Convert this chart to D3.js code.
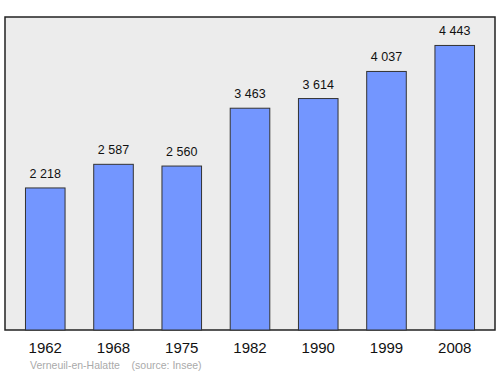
<!DOCTYPE html>
<html>
<head>
<meta charset="utf-8">
<script src="https://cdn.jsdelivr.net/npm/d3@7"></script>
<style>
  body { margin: 0; background: #fff; }
  svg { display: block; font-family: "Liberation Sans", Arial, sans-serif; }
</style>
</head>
<body>
<div id="chart"></div>
<script>
// Population data (Insee)
const years = ['1962', '1968', '1975', '1982', '1990', '1999', '2008'];
const population = [2218, 2587, 2560, 3463, 3614, 4037, 4443];
const commune = 'Verneuil-en-Halatte';
const source = '(source: Insee)';

const width = 500, height = 374;
const frame = { left: 5, top: 17, right: 495, bottom: 330 };

const svg = d3.select('#chart').append('svg')
    .attr('width', width)
    .attr('height', height);

// Plot frame
svg.append('rect')
    .attr('x', frame.left)
    .attr('y', frame.top)
    .attr('width', frame.right - frame.left)
    .attr('height', frame.bottom - frame.top)
    .attr('fill', '#ececec')
    .attr('stroke', '#222')
    .attr('stroke-width', 1.5);

const x = d3.scaleBand()
    .domain(years)
    .range([frame.left, frame.right])
    .paddingInner(0.42)
    .paddingOuter(0.3);

const y = d3.scaleLinear()
    .domain([0, d3.max(population) * 1.1])
    .range([frame.bottom, frame.top]);

const data = years.map((yr, i) => ({ year: yr, value: population[i] }));

// Bars
svg.append('g')
    .selectAll('rect')
    .data(data)
    .enter()
    .append('rect')
    .attr('x', d => x(d.year))
    .attr('y', d => y(d.value))
    .attr('width', x.bandwidth())
    .attr('height', d => frame.bottom - y(d.value))
    .attr('fill', '#7396ff')
    .attr('stroke', '#333')
    .attr('stroke-width', 1);

// Value labels (space as thousands separator)
const fmt = v => d3.format(',')(v).replace(/,/g, ' ');
svg.append('g')
    .selectAll('text')
    .data(data)
    .enter()
    .append('text')
    .attr('x', d => x(d.year) + x.bandwidth() / 2)
    .attr('y', d => y(d.value) - 10)
    .attr('text-anchor', 'middle')
    .attr('font-size', 12.5)
    .attr('fill', '#111')
    .text(d => fmt(d.value));

// Year labels
svg.append('g')
    .selectAll('text')
    .data(years)
    .enter()
    .append('text')
    .attr('x', d => x(d) + x.bandwidth() / 2)
    .attr('y', 352.5)
    .attr('text-anchor', 'middle')
    .attr('font-size', 15)
    .attr('fill', '#111')
    .text(d => d);

// Caption
svg.append('text')
    .attr('x', 30)
    .attr('y', 369)
    .attr('font-size', 10.5)
    .attr('fill', '#aaa')
    .style('white-space', 'pre')
    .text(commune + '    ' + source);
</script>
</body>
</html>
